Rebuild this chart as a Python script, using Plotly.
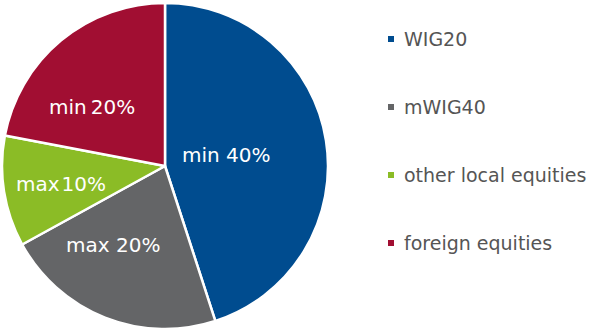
import plotly.graph_objects as go

categories = ["WIG20", "mWIG40", "other local equities", "foreign equities"]
values = [45, 22, 11, 22]
slice_labels = ["min 40%", "max 20%", "max\u200a10%", "min\u200920%"]
colors = ["#004C8F", "#646567", "#8BBC26", "#A10E32"]

# label centres in pixels (layout only)
label_pos = [(226, 155), (113, 245), (61, 184), (92, 107)]

W, H = 595, 332
fig = go.Figure(go.Pie(
    labels=categories, values=values,
    textinfo="none",
    sort=False, direction="clockwise", rotation=0,
    marker=dict(colors=colors, line=dict(color="white", width=2.5)),
    domain=dict(x=[2 / W, 328 / W], y=[3 / H, 329 / H]),
    showlegend=False, hoverinfo="label+value",
))

for txt, (px, py) in zip(slice_labels, label_pos):
    fig.add_annotation(x=px / W, y=1 - py / H, xref="paper", yref="paper",
                       text=txt, showarrow=False, xanchor="center", yanchor="middle",
                       font=dict(family="DejaVu Sans", size=20, color="white"))

legend_x = 402
legend_y0 = 39
legend_step = 68
for i, (cat, col) in enumerate(zip(categories, colors)):
    yc = legend_y0 + i * legend_step
    fig.add_annotation(x=legend_x / W, y=1 - yc / H, xref="paper", yref="paper",
                       text=cat, showarrow=False, xanchor="left", yanchor="middle",
                       font=dict(family="DejaVu Sans", size=19, color="#555555"))
    fig.add_shape(type="rect", xref="paper", yref="paper",
                  x0=388 / W, x1=394 / W, y0=1 - (yc - 3) / H, y1=1 - (yc + 3) / H,
                  fillcolor=col, line=dict(width=0))

fig.update_layout(width=W, height=H, margin=dict(l=0, r=0, t=0, b=0),
                  paper_bgcolor="white", plot_bgcolor="white")
fig.write_html("out.html")
